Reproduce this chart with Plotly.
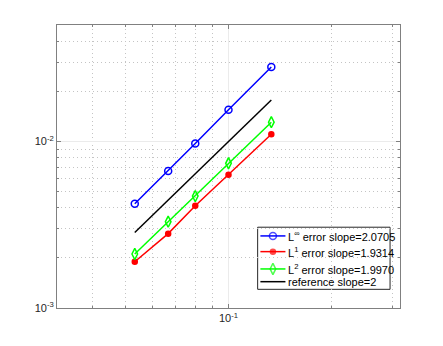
import plotly.graph_objects as go

# mesh sizes
h = [0.0533, 0.0667, 0.08, 0.1, 0.1333]

# errors
err_inf = [0.00423, 0.00665, 0.00973, 0.01552, 0.02805]
err_l1 = [0.001895, 0.002797, 0.00411, 0.00632, 0.01107]
err_l2 = [0.00211, 0.0033, 0.0047, 0.0074, 0.01307]
ref_y = [0.00284, 0.00445, 0.0064, 0.01, 0.01777]

names = [
    "L<sup>\u221e</sup> error slope=2.0705",
    "L<sup>1</sup> error slope=1.9314",
    "L<sup>2</sup> error slope=1.9970",
    "reference slope=2",
]

styles = [
    dict(color="#0000ff", symbol="circle-open", size=7),
    dict(color="#ff0000", symbol="circle", size=5),
    dict(color="#00ff00", symbol="diamond-tall-open", size=8),
    dict(color="#000000", symbol=None, size=0),
]

series = [err_inf, err_l1, err_l2, ref_y]

fig = go.Figure()

for ys, st, nm in zip(series, styles, names):
    if st["symbol"]:
        fig.add_trace(go.Scatter(
            x=h, y=ys, name=nm, mode="lines+markers",
            line=dict(color=st["color"], width=1.5),
            marker=dict(symbol=st["symbol"], size=st["size"], color=st["color"],
                        line=dict(width=1.5, color=st["color"])),
        ))
    else:
        fig.add_trace(go.Scatter(
            x=h, y=ys, name=nm, mode="lines",
            line=dict(color=st["color"], width=1.5),
        ))

# hand-drawn legend (MATLAB style, tighter than plotly's own)
leg_box = dict(x0=0.585, x1=0.971, y0=0.066, y1=0.2855)
leg_rows = [0.2547, 0.1992, 0.138, 0.093]
leg_line = (0.593, 0.666)
leg_text_x = 0.668

# "between": above the grid, below the traces
fig.add_shape(type="rect", xref="paper", yref="paper", layer="between",
              line=dict(color="#262626", width=1), fillcolor="white", **leg_box)

for yr, st, nm in zip(leg_rows, styles, names):
    mid = (leg_line[0] + leg_line[1]) / 2
    fig.add_trace(go.Scatter(
        x=[leg_line[0], mid, leg_line[1]], y=[yr, yr, yr],
        xaxis="x2", yaxis="y2", showlegend=False, hoverinfo="skip",
        mode="lines+markers" if st["symbol"] else "lines",
        line=dict(color=st["color"], width=1.5),
        marker=dict(symbol=st["symbol"] or "circle", size=[0, st["size"], 0],
                    color=st["color"], line=dict(width=1.5, color=st["color"])),
    ))
    fig.add_annotation(x=leg_text_x, y=yr, xref="paper", yref="paper",
                       text=nm, showarrow=False, xanchor="left", yanchor="middle",
                       font=dict(family="Liberation Sans, Arial", size=11, color="#000000"))

axis_common = dict(
    type="log",
    showline=True, mirror="ticks", linecolor="#808080", linewidth=1,
    ticks="inside", ticklen=4, tickcolor="#808080",
    showgrid=True, gridcolor="#ebebeb", gridwidth=1,
    zeroline=False,
    tickfont=dict(family="Liberation Sans, Arial", size=11, color="#262626"),
    minor=dict(dtick="D1", ticks="inside", ticklen=2, tickcolor="#808080",
               showgrid=True, gridcolor="#c4c4c4", griddash="1px,3px", gridwidth=1),
)

fig.update_xaxes(
    **axis_common,
    range=[-1.5, -0.5],
    tickvals=[0.1], ticktext=["10<sup>-1</sup>"],
)
fig.update_yaxes(
    **axis_common,
    range=[-3, -1.3],
    tickvals=[0.001, 0.01], ticktext=["10<sup>-3</sup>", "10<sup>-2</sup>"],
)

fig.update_layout(
    template="none",
    width=443, height=346,
    # page body adds 8px, so margins are shifted to compensate
    margin=dict(l=49, r=51, t=17, b=46),
    paper_bgcolor="white", plot_bgcolor="white",
    font=dict(family="Liberation Sans, Arial", size=11, color="#000000"),
    showlegend=False,
    xaxis2=dict(overlaying="x", range=[0, 1], visible=False, fixedrange=True),
    yaxis2=dict(overlaying="y", range=[0, 1], visible=False, fixedrange=True),
)

fig.write_html("out.html")
